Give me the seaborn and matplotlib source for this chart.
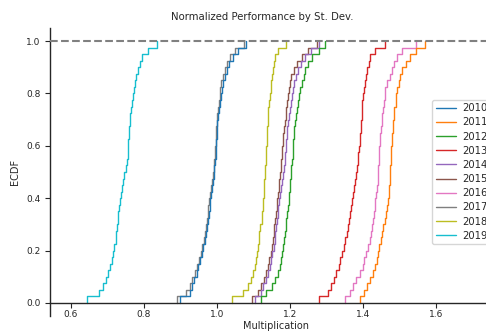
import matplotlib
matplotlib.use("Agg")
import matplotlib.pyplot as plt
import seaborn as sns
import pandas as pd

years = ["2010", "2011", "2012", "2013", "2014", "2015", "2016", "2017", "2018", "2019"]

y2010 = [0.900, 0.925, 0.932, 0.938, 0.944, 0.949, 0.954, 0.959, 0.963, 0.967,
         0.970, 0.973, 0.976, 0.978, 0.980, 0.982, 0.984, 0.986, 0.988, 0.991,
         0.993, 0.995, 0.996, 0.997, 0.998, 0.999, 1.000, 1.001, 1.003, 1.005,
         1.007, 1.010, 1.013, 1.017, 1.021, 1.027, 1.034, 1.043, 1.058, 1.080]
y2011 = [1.392, 1.404, 1.412, 1.419, 1.427, 1.432, 1.437, 1.441, 1.445, 1.449,
         1.453, 1.456, 1.459, 1.462, 1.465, 1.468, 1.470, 1.472, 1.473, 1.474,
         1.475, 1.476, 1.477, 1.478, 1.479, 1.480, 1.481, 1.483, 1.484, 1.486,
         1.489, 1.491, 1.494, 1.498, 1.502, 1.508, 1.517, 1.530, 1.545, 1.570]
y2012 = [1.120, 1.135, 1.152, 1.160, 1.167, 1.172, 1.175, 1.178, 1.181, 1.184,
         1.186, 1.188, 1.190, 1.192, 1.194, 1.196, 1.198, 1.199, 1.201, 1.203,
         1.204, 1.206, 1.207, 1.208, 1.209, 1.210, 1.212, 1.214, 1.216, 1.218,
         1.221, 1.224, 1.228, 1.232, 1.237, 1.242, 1.250, 1.260, 1.280, 1.295]
y2013 = [1.280, 1.303, 1.312, 1.320, 1.327, 1.333, 1.338, 1.343, 1.347, 1.351,
         1.355, 1.358, 1.361, 1.364, 1.367, 1.370, 1.373, 1.376, 1.378, 1.381,
         1.383, 1.385, 1.387, 1.389, 1.391, 1.393, 1.394, 1.395, 1.396, 1.397,
         1.398, 1.400, 1.402, 1.405, 1.408, 1.412, 1.416, 1.420, 1.432, 1.460]
y2014 = [1.105, 1.120, 1.127, 1.134, 1.140, 1.144, 1.148, 1.152, 1.155, 1.158,
         1.160, 1.162, 1.164, 1.166, 1.168, 1.170, 1.173, 1.175, 1.178, 1.181,
         1.183, 1.185, 1.187, 1.188, 1.190, 1.191, 1.193, 1.195, 1.197, 1.199,
         1.202, 1.205, 1.208, 1.212, 1.216, 1.222, 1.229, 1.240, 1.258, 1.280]
y2015 = [1.095, 1.112, 1.120, 1.128, 1.135, 1.139, 1.143, 1.147, 1.150, 1.153,
         1.155, 1.157, 1.159, 1.161, 1.163, 1.165, 1.167, 1.169, 1.171, 1.173,
         1.174, 1.176, 1.177, 1.179, 1.180, 1.182, 1.184, 1.186, 1.188, 1.190,
         1.192, 1.194, 1.197, 1.200, 1.204, 1.210, 1.219, 1.232, 1.250, 1.275]
y2016 = [1.352, 1.365, 1.373, 1.382, 1.391, 1.399, 1.404, 1.409, 1.414, 1.418,
         1.421, 1.424, 1.427, 1.430, 1.432, 1.434, 1.436, 1.438, 1.440, 1.441,
         1.442, 1.443, 1.444, 1.445, 1.446, 1.447, 1.449, 1.451, 1.453, 1.455,
         1.457, 1.459, 1.461, 1.467, 1.473, 1.480, 1.486, 1.493, 1.508, 1.545]
y2017 = [0.890, 0.914, 0.925, 0.932, 0.939, 0.945, 0.950, 0.955, 0.960, 0.964,
         0.967, 0.970, 0.972, 0.974, 0.976, 0.978, 0.980, 0.983, 0.986, 0.989,
         0.991, 0.993, 0.994, 0.995, 0.996, 0.997, 0.998, 0.999, 1.001, 1.003,
         1.005, 1.007, 1.009, 1.012, 1.016, 1.021, 1.028, 1.036, 1.050, 1.075]
y2018 = [1.040, 1.070, 1.085, 1.092, 1.098, 1.103, 1.107, 1.110, 1.112, 1.114,
         1.116, 1.118, 1.122, 1.124, 1.126, 1.127, 1.128, 1.129, 1.130, 1.131,
         1.132, 1.133, 1.134, 1.135, 1.136, 1.137, 1.138, 1.139, 1.140, 1.141,
         1.142, 1.144, 1.147, 1.149, 1.152, 1.154, 1.157, 1.160, 1.168, 1.190]
y2019 = [0.645, 0.678, 0.689, 0.695, 0.701, 0.706, 0.711, 0.716, 0.719, 0.722,
         0.724, 0.726, 0.728, 0.730, 0.732, 0.734, 0.736, 0.739, 0.742, 0.745,
         0.752, 0.754, 0.755, 0.756, 0.757, 0.758, 0.759, 0.761, 0.762, 0.764,
         0.767, 0.770, 0.773, 0.776, 0.779, 0.784, 0.789, 0.795, 0.810, 0.835]

series = [y2010, y2011, y2012, y2013, y2014, y2015, y2016, y2017, y2018, y2019]
df = pd.concat([pd.DataFrame({"Multiplication": vals, "year": yr})
                for yr, vals in zip(years, series)], ignore_index=True)

sns.set_theme(style="ticks")
plt.rcParams["font.family"] = ["DejaVu Sans"]

fig = plt.figure(figsize=(4.86, 3.35), dpi=100)
ax = fig.add_axes([50 / 486, 19 / 335, 451 / 486, 288 / 335])

sns.ecdfplot(data=df, x="Multiplication", hue="year", hue_order=years,
             palette="tab10", linewidth=1.0, ax=ax)
ax.axhline(1.0, color="gray", linestyle="--", linewidth=1.5, zorder=3)

ax.set_xlim(0.5425, 1.778)
ax.set_ylim(-0.05, 1.05)
ax.spines["top"].set_visible(False)
ax.spines["right"].set_visible(False)
ax.spines["bottom"].set_position(("data", 0))
ax.spines["left"].set_linewidth(1.0)
ax.spines["bottom"].set_linewidth(1.0)
ax.set_xticks([0.6, 0.8, 1.0, 1.2, 1.4, 1.6])
ax.set_yticks([0.0, 0.2, 0.4, 0.6, 0.8, 1.0])
ax.tick_params(labelsize=6.5, width=0.8, length=3.5)
ax.tick_params(axis="x", pad=1.5)
ax.set_xlabel("Multiplication", fontsize=7, labelpad=1.5)
ax.set_ylabel("ECDF", fontsize=7)
ax.set_title("Normalized Performance by St. Dev.", fontsize=7.3, pad=6, x=0.47)

sns.move_legend(ax, "center left", title=None, fontsize=7.2, frameon=True,
                labelspacing=0.42, borderpad=0.35, handletextpad=0.7,
                bbox_to_anchor=(432 / 486, 1 - 172 / 335),
                bbox_transform=fig.transFigure, borderaxespad=0)

fig.savefig("out.png", dpi=100)
